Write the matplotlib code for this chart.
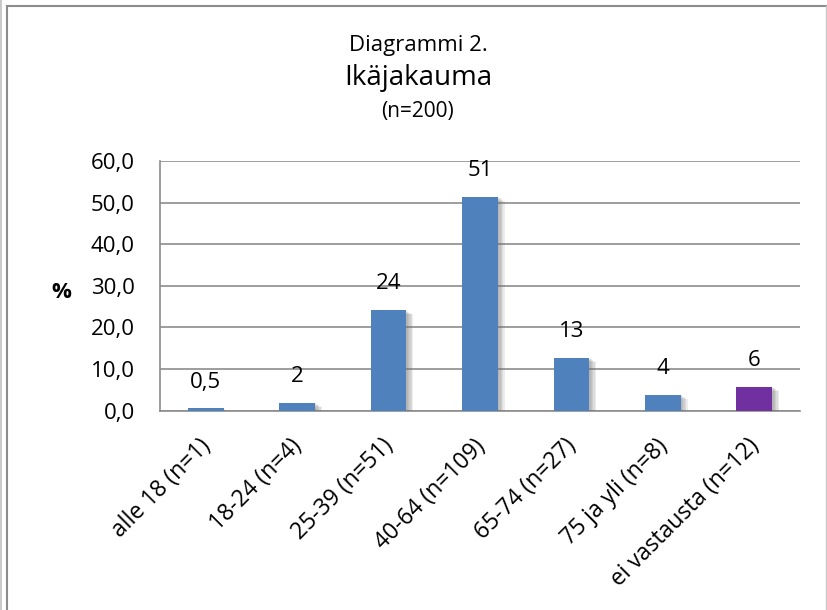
import matplotlib
matplotlib.use("Agg")
import matplotlib.pyplot as plt
import matplotlib.patheffects as pe
from matplotlib.lines import Line2D
from matplotlib.transforms import ScaledTranslation

# data
categories = ["alle 18 (n=1)", "18-24 (n=4)", "25-39 (n=51)", "40-64 (n=109)",
              "65-74 (n=27)", "75 ja yli (n=8)", "ei vastausta (n=12)"]
values = [0.5, 1.9, 24.1, 51.4, 12.7, 3.8, 5.7]
value_labels = ["0,5", "2", "24", "51", "13", "4", "6"]
bar_colors = ["#4F81BD"] * 6 + ["#7030A0"]
yticks = [0, 10, 20, 30, 40, 50, 60]
ytick_labels = ["0,0", "10,0", "20,0", "30,0", "40,0", "50,0", "60,0"]

plt.rcParams['font.family'] = ['Open Sans', 'DejaVu Sans']

fig = plt.figure(figsize=(8.28, 6.10), dpi=100)
ax = fig.add_axes([160/828, 1 - 410.5/610, 640/828, 249.5/610])

x = list(range(len(categories)))
# soft drop shadow to the lower right
shadow = [pe.SimplePatchShadow(offset=(o, -o * 0.6), shadow_rgbFace='#707070', alpha=0.13)
          for o in (5, 4, 3, 2, 1)] + [pe.Normal()]
bars = ax.bar(x, values, width=0.39, color=bar_colors, zorder=3, path_effects=shadow)

for xi, v, lab in zip(x, values, value_labels):
    ax.annotate(lab, (xi, v), xytext=(0, 19), textcoords='offset points',
                ha='center', va='center', fontsize=16, color='black')

ax.set_xlim(-0.5, len(categories) - 0.5)
ax.set_ylim(0, 60)
ax.set_yticks(yticks)
ax.set_yticklabels(ytick_labels, fontsize=16)
ax.set_xticks(x)
ax.set_xticklabels(categories, fontsize=16.5, rotation=45, ha='right', va='top',
                   rotation_mode='anchor')
ax.tick_params(axis='y', length=0, pad=18)
ax.tick_params(axis='x', length=0, pad=17)
for lbl in ax.get_xticklabels():
    lbl.set_transform(lbl.get_transform() + ScaledTranslation(-0.07, 0, fig.dpi_scale_trans))

ax.grid(axis='y', color='#8c8c8c', linewidth=1.2, zorder=0)
for s in ['top', 'right']:
    ax.spines[s].set_visible(False)
for s in ['left', 'bottom']:
    ax.spines[s].set_color('#8c8c8c')
    ax.spines[s].set_linewidth(1.2)

fig.text(61/828, 1 - 292/610, "%", fontsize=16, fontweight='bold', ha='center', va='center')
fig.text(418/828, 1 - 45.5/610, "Diagrammi 2.", fontsize=16, ha='center', va='center')
fig.text(418/828, 1 - 78/610, "Ikäjakauma", fontsize=20, ha='center', va='center')
fig.text(418/828, 1 - 111/610, "(n=200)", fontsize=15, ha='center', va='center')

# frame lines
fig.add_artist(Line2D([1.5/828, 1.5/828], [0, 1], color='#c0c0c0', linewidth=1.2))
fig.add_artist(Line2D([7.5/828, 7.5/828], [0, 1 - 6/610], color='#8c8c8c', linewidth=1.5))
fig.add_artist(Line2D([7.5/828, 826/828], [1 - 6/610, 1 - 6/610], color='#8c8c8c', linewidth=1.5))
fig.add_artist(Line2D([826/828, 826/828], [0, 1 - 6/610], color='#c8c8c8', linewidth=1.0))

fig.savefig("out.png", dpi=100)
